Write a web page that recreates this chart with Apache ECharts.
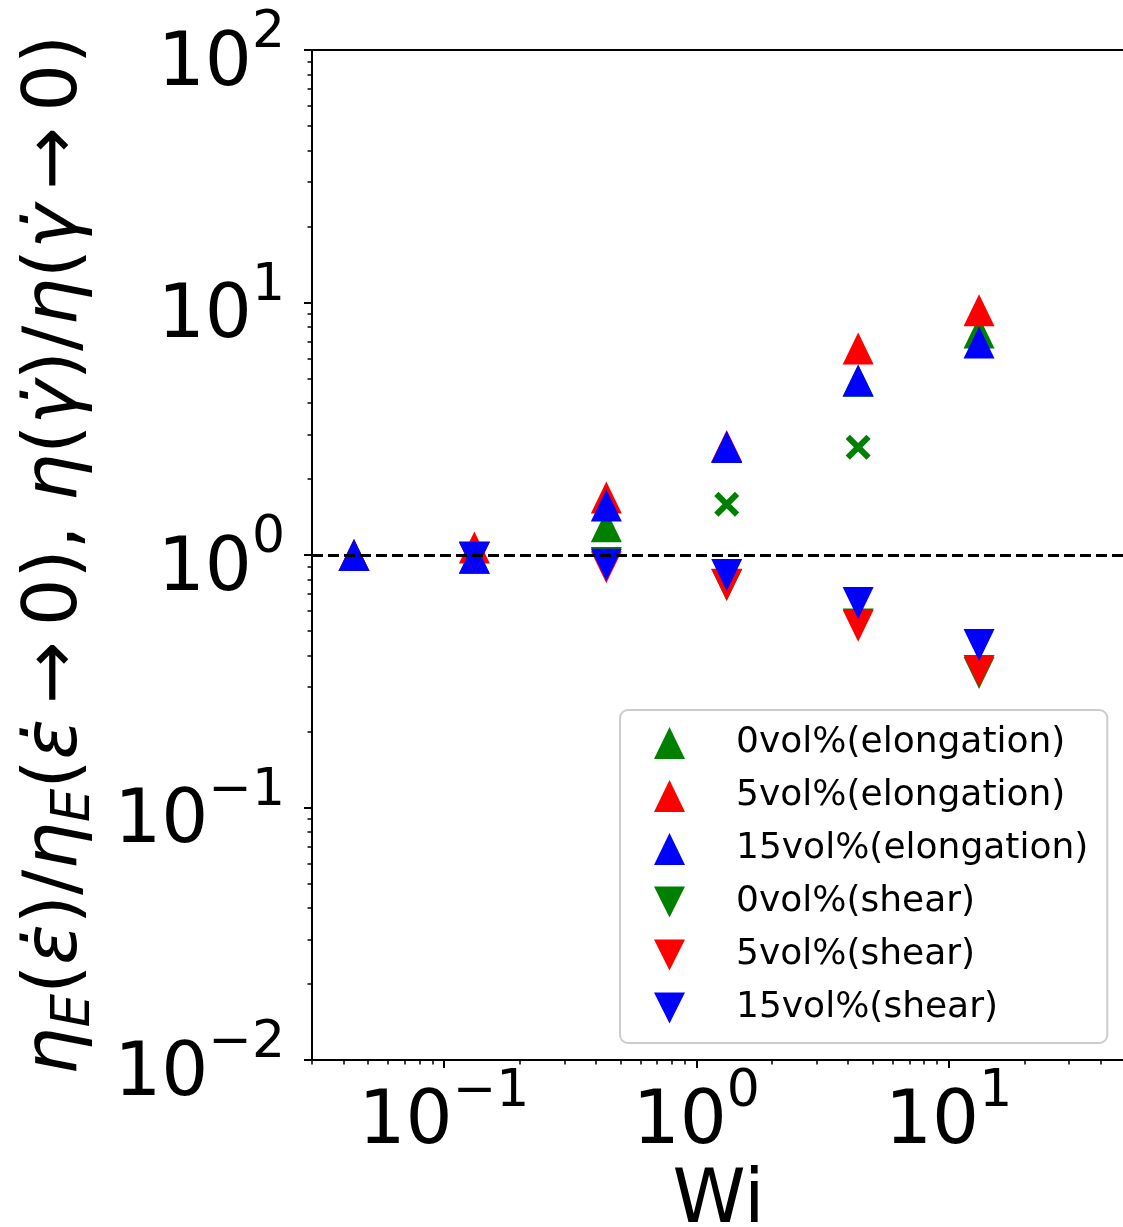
<!DOCTYPE html>
<html>
<head>
<meta charset="utf-8">
<script src="https://cdn.jsdelivr.net/npm/echarts@6/dist/echarts.min.js"></script>
<style>
  html, body { margin: 0; padding: 0; background: #ffffff; }
  #chart { width: 1123px; height: 1227px; }
</style>
</head>
<body>
<div id="chart"></div>
<script>
// Weissenberg numbers shared by every data set
const wi = [0.044, 0.132, 0.44, 1.32, 4.38, 13.2];

// Normalised elongational viscosity
const elong0  = [1.0, 0.975, 1.30, 2.68, 4.90, 7.60];
const elong5  = [1.0, 1.07,  1.69, 2.70, 6.57, 9.31];
const elong15 = [1.0, 0.975, 1.57, 2.68, 4.91, 6.95];

// Normalised shear viscosity (no value at the lowest Wi)
const shear0  = [null, 0.975, 0.93,  0.76,  0.53,  0.341];
const shear5  = [null, 0.975, 0.895, 0.763, 0.525, 0.347];
const shear15 = [null, 0.975, 0.915, 0.833, 0.645, 0.44];

// Extra green cross markers
const crossWi  = [1.32, 4.38];
const crossVal = [1.59, 2.67];

// Tick positions
const xMajorTicks = [0.1, 1, 10];
const xMinorTicks = [0.03, 0.04, 0.05, 0.06, 0.07, 0.08, 0.09,
                     0.2, 0.3, 0.4, 0.5, 0.6, 0.7, 0.8, 0.9,
                     2, 3, 4, 5, 6, 7, 8, 9, 20, 30, 40];
const yMajorTicks = [0.01, 0.1, 1, 10, 100];
const yMinorTicks = [0.02, 0.03, 0.04, 0.05, 0.06, 0.07, 0.08, 0.09,
                     0.2, 0.3, 0.4, 0.5, 0.6, 0.7, 0.8, 0.9,
                     2, 3, 4, 5, 6, 7, 8, 9,
                     20, 30, 40, 50, 60, 70, 80, 90];

const legendNames = ['0vol%(elongation)', '5vol%(elongation)', '15vol%(elongation)',
                     '0vol%(shear)', '5vol%(shear)', '15vol%(shear)'];

const FONT = 'DejaVu Sans';
const GREEN = '#008000', RED = '#ff0000', BLUE = '#0000ff';

function pairs(xs, ys) {
  return xs.map((x, i) => (ys[i] == null ? null : [x, ys[i]])).filter(Boolean);
}

function powLabel(v) {
  const e = Math.round(Math.log10(v));
  return '{b|10}{s|' + (e < 0 ? '\u2212' + (-e) : String(e)) + '}';
}

const powRich = {
  b: { fontFamily: FONT, fontSize: 74, lineHeight: 95, verticalAlign: 'bottom', color: '#000' },
  s: { fontFamily: FONT, fontSize: 52, lineHeight: 52, verticalAlign: 'top', color: '#000' }
};

const XMIN = 0.03, XMAX = 50, YMIN = 0.01, YMAX = 100;

const UP_ICON = 'triangle';
const DOWN_ICON = 'path://M0,0L10,0L5,10Z';

function triSeries(name, data, color, down) {
  return {
    name: name,
    type: 'scatter',
    data: data,
    symbol: 'triangle',
    symbolSize: [31, 32],
    symbolRotate: down ? 180 : 0,
    itemStyle: { color: color, opacity: 1 },
    emphasis: { disabled: true },
    animation: false
  };
}

const crossPath = 'path://M1.7,0L5,3.3L8.3,0L10,1.7L6.7,5L10,8.3L8.3,10L5,6.7L1.7,10L0,8.3L3.3,5L0,1.7Z';

const yName = '{i|\u03b7}{sub|E}{r|(}{i|\u03b5\u0307}{r|)/}{i|\u03b7}{sub|E}{r|(}{i|\u03b5\u0307}{r|\u2009\u2192\u20090), }' +
              '{i|\u03b7}{r|(}{i|\u03b3\u0307}{r|)/}{i|\u03b7}{r|(}{i|\u03b3\u0307}{r|\u2009\u2192\u20090)}';

const option = {
  backgroundColor: '#ffffff',
  animation: false,
  grid: { left: 312, top: 50, right: -2, bottom: 167, containLabel: false, outerBoundsMode: 'none' },
  legend: {
    orient: 'vertical',
    left: 620,
    top: 710,
    data: legendNames.map((n, i) => ({ name: n, icon: i < 3 ? UP_ICON : DOWN_ICON })),
    itemWidth: 31,
    itemHeight: 32,
    itemGap: 17,
    padding: [15, 19, 17, 34],
    backgroundColor: 'rgba(255,255,255,0.8)',
    borderColor: '#cccccc',
    borderWidth: 2,
    borderRadius: 8,
    selectedMode: false,
    textStyle: { fontFamily: FONT, fontSize: 36, color: '#000', padding: [0, 0, 0, 46] }
  },
  xAxis: [
    {
      type: 'log', logBase: 10, min: XMIN, max: XMAX, position: 'bottom',
      name: 'Wi', nameLocation: 'middle', nameGap: 105,
      nameTextStyle: { fontFamily: FONT, fontSize: 74, color: '#000' },
      axisLine: { show: true, onZero: false, lineStyle: { color: '#000', width: 2 } },
      axisTick: { show: true, customValues: xMajorTicks, length: 8, lineStyle: { color: '#000', width: 2 } },
      axisLabel: { show: true, customValues: xMajorTicks, formatter: powLabel, rich: powRich, margin: 6 },
      splitLine: { show: false }, minorTick: { show: false }
    },
    {
      type: 'log', logBase: 10, min: XMIN, max: XMAX, position: 'bottom',
      axisLine: { show: false, onZero: false },
      axisTick: { show: true, customValues: xMinorTicks, length: 4.5, lineStyle: { color: '#000', width: 1.5 } },
      axisLabel: { show: false }, splitLine: { show: false }
    },
    {
      type: 'log', logBase: 10, min: XMIN, max: XMAX, position: 'top',
      axisLine: { show: true, onZero: false, lineStyle: { color: '#000', width: 2 } },
      axisTick: { show: false }, axisLabel: { show: false }, splitLine: { show: false }
    }
  ],
  yAxis: [
    {
      type: 'log', logBase: 10, min: YMIN, max: YMAX, position: 'left',
      name: yName, nameLocation: 'middle', nameGap: 210, nameRotate: 90,
      nameTextStyle: {
        fontFamily: FONT, fontSize: 75, color: '#000',
        rich: {
          i: { fontFamily: FONT, fontSize: 75, fontStyle: 'italic', lineHeight: 90, color: '#000' },
          r: { fontFamily: FONT, fontSize: 75, lineHeight: 90, color: '#000' },
          sub: { fontFamily: FONT, fontSize: 53, fontStyle: 'italic', lineHeight: 47, verticalAlign: 'bottom', color: '#000' }
        }
      },
      axisLine: { show: true, onZero: false, lineStyle: { color: '#000', width: 2 } },
      axisTick: { show: true, customValues: yMajorTicks, length: 8, lineStyle: { color: '#000', width: 2 } },
      axisLabel: { show: true, customValues: yMajorTicks, formatter: powLabel, rich: powRich, margin: 27, padding: [10, 0, 0, 0] },
      splitLine: { show: false }, minorTick: { show: false }
    },
    {
      type: 'log', logBase: 10, min: YMIN, max: YMAX, position: 'left',
      axisLine: { show: false, onZero: false },
      axisTick: { show: true, customValues: yMinorTicks, length: 4.5, lineStyle: { color: '#000', width: 1.5 } },
      axisLabel: { show: false }, splitLine: { show: false }
    }
  ],
  series: [
    {
      name: 'cross0',
      type: 'scatter',
      data: pairs(crossWi, crossVal),
      symbol: crossPath,
      symbolSize: 25,
      itemStyle: { color: GREEN, opacity: 1 },
      emphasis: { disabled: true }
    },
    triSeries(legendNames[0], pairs(wi, elong0), GREEN, false),
    triSeries(legendNames[1], pairs(wi, elong5), RED, false),
    triSeries(legendNames[2], pairs(wi, elong15), BLUE, false),
    triSeries(legendNames[3], pairs(wi, shear0), GREEN, true),
    triSeries(legendNames[4], pairs(wi, shear5), RED, true),
    Object.assign(triSeries(legendNames[5], pairs(wi, shear15), BLUE, true), {
      markLine: {
        silent: true,
        symbol: ['none', 'none'],
        label: { show: false },
        lineStyle: { color: '#000', width: 3, type: [11, 5] },
        data: [{ yAxis: 1 }]
      }
    })
  ]
};

const chart = echarts.init(document.getElementById('chart'), null, { renderer: 'canvas' });
chart.setOption(option);
</script>
</body>
</html>
